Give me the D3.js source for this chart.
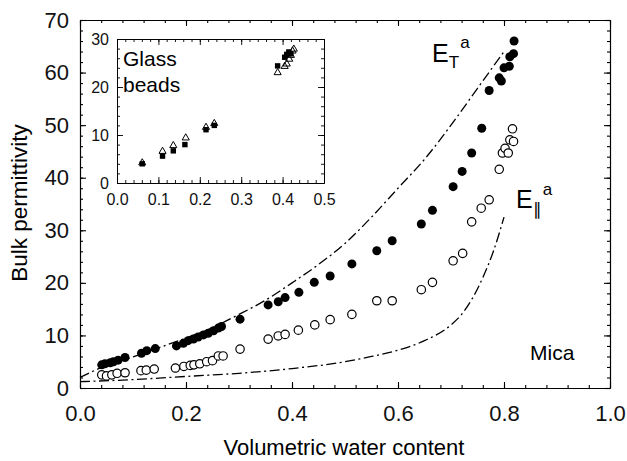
<head>
	<style>
		body { margin: 0; padding: 0; background: #fff; }
		svg { font-family: "Liberation Sans", Arial, sans-serif; }
		.axis path, .axis line { stroke: #000; stroke-width: 1.1; }
		.axis text { fill: #111; }
	</style>
	<script src="https://cdnjs.cloudflare.com/ajax/libs/d3/7.8.5/d3.min.js"></script>
</head>
<body>
	<svg width="627" height="461"></svg>
</body>
<script>
	// main plot: filled circles (upper), open circles (lower)
	const filledTheta = [0.041,0.047,0.057,0.063,0.072,0.085,0.116,0.126,0.142,0.182,0.195,0.204,0.214,0.223,0.233,0.242,0.252,0.261,0.267,0.302,0.355,0.374,0.387,0.413,0.442,0.472,0.513,0.56,0.589,0.644,0.665,0.704,0.721,0.739,0.758,0.772,0.791,0.795,0.80,0.81,0.811,0.818,0.819];
	const filledEps = [4.4,4.6,4.8,5.0,5.3,5.8,6.6,7.1,7.5,8.0,8.5,9.0,9.3,9.7,10.1,10.4,10.9,11.4,11.7,13.1,15.8,16.4,17.2,18.2,20.1,21.3,23.6,26.1,28.0,31.2,33.8,38.3,41.2,44.7,49.4,56.6,59.0,58.4,60.9,61.2,63.0,63.6,66.0];
	const openTheta = [0.041,0.05,0.06,0.07,0.085,0.115,0.125,0.14,0.18,0.196,0.208,0.215,0.226,0.239,0.25,0.261,0.27,0.302,0.355,0.374,0.387,0.412,0.443,0.472,0.513,0.56,0.589,0.644,0.665,0.704,0.722,0.739,0.757,0.772,0.791,0.797,0.802,0.808,0.811,0.818,0.816];
	const openEps = [2.5,2.3,2.5,2.8,2.9,3.3,3.4,3.6,3.8,4.1,4.3,4.4,4.6,5.0,5.2,6.1,6.1,7.4,9.3,9.9,10.2,11.0,12.0,13.0,14.0,16.6,16.6,18.7,20.1,24.2,25.6,31.6,34.2,35.8,41.6,44.7,45.6,44.7,47.2,46.9,49.3];

	// model curves (dash-dot)
	const etTheta = [0,0.05,0.1,0.15,0.2,0.25,0.3,0.35,0.4,0.45,0.5,0.55,0.6,0.65,0.7,0.75,0.8];
	const etEps = [2.0,4.3,5.9,7.7,9.5,11.5,14.0,16.7,20.0,23.5,27.5,32.5,38.0,43.5,50.0,57.0,64.0];
	const elTheta = [0,0.1,0.2,0.3,0.4,0.5,0.55,0.6,0.65,0.7,0.72,0.74,0.76,0.78,0.8];
	const elEps = [1.2,1.6,2.2,2.8,3.7,5.0,6.0,7.2,9.0,12.0,14.0,17.0,21.0,26.0,32.5];

	// inset: glass beads
	const sqTheta = [0.061,0.11,0.136,0.164,0.215,0.235,0.388,0.405,0.41,0.415,0.42];
	const sqEps = [4.0,5.6,6.7,8.0,11.1,12.0,24.4,26.2,26.8,27.3,26.9];
	const triTheta = [0.061,0.11,0.136,0.166,0.215,0.235,0.388,0.405,0.41,0.416,0.42,0.424,0.427];
	const triEps = [4.2,6.6,7.8,9.4,11.6,12.4,23.0,24.3,24.8,25.8,26.6,27.5,27.9];

	const mainXTicks = [0, 0.2, 0.4, 0.6, 0.8, 1.0];
	const mainYTicks = [0, 10, 20, 30, 40, 50, 60, 70];
	const insetXTicks = [0, 0.1, 0.2, 0.3, 0.4, 0.5];
	const insetYTicks = [0, 10, 20, 30];

	const svg = d3.select('svg');
	const zip = (a, b) => a.map((v, i) => [v, b[i]]);

	// main scales
	const x = d3.scaleLinear().domain([0, 1]).range([80, 610]);
	const y = d3.scaleLinear().domain([0, 70]).range([388, 20]);

	function frame(g, xs, ys, xTicks, yTicks, xMinor, yMinor, fs, padX, padY, fmtX) {
		const [x0, x1] = xs.range(), [y0, y1] = ys.range();
		const minorX = d3.range(xs.domain()[0], xs.domain()[1] + 1e-9, xMinor);
		const minorY = d3.range(ys.domain()[0], ys.domain()[1] + 1e-9, yMinor);
		const mk = (axis, tr) => g.append('g').attr('class', 'axis').attr('transform', tr).call(axis);
		// minor ticks
		mk(d3.axisBottom(xs).tickValues(minorX).tickSize(-3).tickSizeOuter(0).tickFormat(''), `translate(0,${y0})`);
		mk(d3.axisTop(xs).tickValues(minorX).tickSize(-3).tickSizeOuter(0).tickFormat(''), `translate(0,${y1})`);
		mk(d3.axisLeft(ys).tickValues(minorY).tickSize(-3).tickSizeOuter(0).tickFormat(''), `translate(${x0},0)`);
		mk(d3.axisRight(ys).tickValues(minorY).tickSize(-3).tickSizeOuter(0).tickFormat(''), `translate(${x1},0)`);
		// major ticks with labels
		const b = mk(d3.axisBottom(xs).tickValues(xTicks).tickSize(-6).tickSizeOuter(0).tickPadding(padX).tickFormat(fmtX), `translate(0,${y0})`);
		mk(d3.axisTop(xs).tickValues(xTicks).tickSize(-6).tickSizeOuter(0).tickFormat(''), `translate(0,${y1})`);
		const l = mk(d3.axisLeft(ys).tickValues(yTicks).tickSize(-6).tickSizeOuter(0).tickPadding(padY).tickFormat(d3.format('d')), `translate(${x0},0)`);
		mk(d3.axisRight(ys).tickValues(yTicks).tickSize(-6).tickSizeOuter(0).tickFormat(''), `translate(${x1},0)`);
		b.selectAll('text').style('font-size', fs + 'px');
		l.selectAll('text').style('font-size', fs + 'px');
	}

	const main = svg.append('g');
	frame(main, x, y, mainXTicks, mainYTicks, 0.04, 2, 22, 17, 11, d3.format('.1f'));

	const line = (xs, ys) => d3.line().x(d => xs(d[0])).y(d => ys(d[1])).curve(d3.curveMonotoneX);
	main.append('path').attr('d', line(x, y)(zip(etTheta, etEps)))
		.attr('fill', 'none').attr('stroke', '#000').attr('stroke-width', 1.3)
		.attr('stroke-dasharray', '10,3.5,2,3.5');
	main.append('path').attr('d', line(x, y)(zip(elTheta, elEps)))
		.attr('fill', 'none').attr('stroke', '#000').attr('stroke-width', 1.3)
		.attr('stroke-dasharray', '10,3.5,2,3.5');

	main.selectAll('circle.open').data(zip(openTheta, openEps)).enter().append('circle')
		.attr('class', 'open').attr('cx', d => x(d[0])).attr('cy', d => y(d[1])).attr('r', 4.2)
		.attr('fill', '#fff').attr('stroke', '#000').attr('stroke-width', 1.2);
	main.selectAll('circle.filled').data(zip(filledTheta, filledEps)).enter().append('circle')
		.attr('class', 'filled').attr('cx', d => x(d[0])).attr('cy', d => y(d[1])).attr('r', 4.5)
		.attr('fill', '#000');

	// labels
	main.append('text').attr('x', 344).attr('y', 455).attr('text-anchor', 'middle')
		.style('font-size', '22px').text('Volumetric water content');
	main.append('text').attr('transform', 'translate(27,203) rotate(-90)').attr('text-anchor', 'middle')
		.style('font-size', '22.5px').text('Bulk permittivity');
	main.append('text').attr('x', 530).attr('y', 360).style('font-size', '21px').text('Mica');

	const et = main.append('text').attr('x', 432).attr('y', 62).style('font-size', '25px');
	et.append('tspan').text('E');
	et.append('tspan').attr('dy', 6).style('font-size', '17px').text('T');
	et.append('tspan').attr('dx', 3).attr('dy', -20).style('font-size', '17px').text('a');
	const el = main.append('text').attr('x', 516).attr('y', 208).style('font-size', '25px');
	el.append('tspan').text('E');
	el.append('tspan').attr('dy', 7).style('font-size', '17px').text('∥');
	el.append('tspan').attr('dx', 1).attr('dy', -20).style('font-size', '17px').text('a');

	// inset
	const xi = d3.scaleLinear().domain([0, 0.5]).range([117, 324]);
	const yi = d3.scaleLinear().domain([0, 30]).range([183, 39]);
	const inset = svg.append('g');
	inset.append('rect').attr('x', 117).attr('y', 39).attr('width', 207).attr('height', 144).attr('fill', '#fff');
	frame(inset, xi, yi, insetXTicks, insetYTicks, 0.02, 2, 16, 11, 8, d3.format('.1f'));
	inset.selectAll('.axis path, .axis line').style('stroke-width', 0.9);

	inset.append('text').attr('x', 123).attr('y', 66).style('font-size', '21px').text('Glass');
	inset.append('text').attr('x', 123).attr('y', 92).style('font-size', '21px').text('beads');

	inset.selectAll('rect.sq').data(zip(sqTheta, sqEps)).enter().append('rect')
		.attr('class', 'sq').attr('x', d => xi(d[0]) - 2.7).attr('y', d => yi(d[1]) - 2.7)
		.attr('width', 5.4).attr('height', 5.4).attr('fill', '#000');
	const tri = d3.symbol().type(d3.symbolTriangle).size(22);
	inset.selectAll('path.tri').data(zip(triTheta, triEps)).enter().append('path')
		.attr('class', 'tri').attr('d', tri)
		.attr('transform', d => `translate(${xi(d[0])},${yi(d[1])})`)
		.attr('fill', 'none').attr('stroke', '#000').attr('stroke-width', 1);
</script>
